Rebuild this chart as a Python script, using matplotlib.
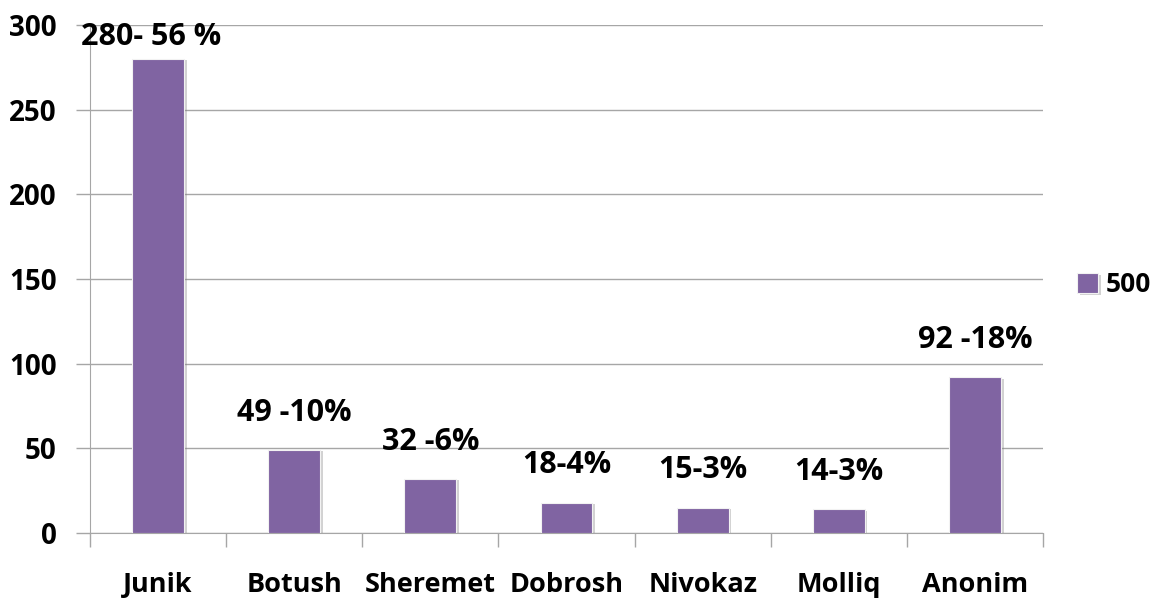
import numpy as np
import matplotlib
matplotlib.use("Agg")
import matplotlib.pyplot as plt
import matplotlib.patheffects as pe

## Chart data
categories = ['Junik', 'Botush', 'Sheremet', 'Dobrosh', 'Nivokaz', 'Molliq', 'Anonim']
values = [280, 49, 32, 18, 15, 14, 92]
labels = ['280- 56 %', '49 -10%', '32 -6%', '18-4%', '15-3%', '14-3%', '92 -18%']
series_name = '500'
y_ticks = [0, 50, 100, 150, 200, 250, 300]

plt.rcParams['font.family'] = ['Open Sans', 'DejaVu Sans']
plt.rcParams['font.weight'] = 'bold'

bar_color = '#8064A2'
grid_color = '#a6a6a6'

fig = plt.figure(figsize=(11.63, 6.0), dpi=100)
ax = fig.add_axes([0.0774, 0.1117, 0.8194, 0.8466])

x = np.arange(len(categories))
shadow = [pe.SimplePatchShadow(offset=(2, -1), shadow_rgbFace='#808080', alpha=0.35), pe.Normal()]
bars = ax.bar(x, values, width=0.38, color=bar_color, edgecolor='#f2f2f2', linewidth=0.8,
              zorder=3, label=series_name)
for b in bars:
    b.set_path_effects(shadow)

## data labels above the bars
for xi, v, lab in zip(x, values, labels):
    ax.text(xi - (0.05 if v > 250 else 0), min(v + 22, 293), lab, ha='center', va='center',
            fontsize=22, fontweight='bold', color='black', zorder=4)

ax.set_xlim(-0.5, len(categories) - 0.5)
ax.set_ylim(0, 300)
ax.set_yticks(y_ticks)
ax.yaxis.grid(True, color=grid_color, linewidth=1.0, zorder=0)

# x ticks at the category boundaries, labels at centres
ax.set_xticks(np.arange(len(categories) + 1) - 0.5)
ax.set_xticklabels([])
ax.set_xticks(x, minor=True)
ax.set_xticklabels(categories, minor=True)
ax.tick_params(axis='x', which='minor', length=0, pad=28, labelsize=19.5)
ax.tick_params(axis='x', which='major', length=10, color=grid_color, width=1.0)
ax.tick_params(axis='y', length=10, color=grid_color, width=1.0, pad=14, labelsize=20)
for t in ax.get_xticklabels(minor=True) + ax.get_yticklabels():
    t.set_fontweight('bold')

for s in ['top', 'right']:
    ax.spines[s].set_visible(False)
ax.spines['left'].set_color(grid_color)
ax.spines['bottom'].set_color(grid_color)

leg = fig.legend(handles=[bars], labels=[series_name], loc='center left',
                 bbox_to_anchor=(0.926, 0.525), frameon=False, handlelength=0.8,
                 handleheight=0.8, handletextpad=0.3, borderpad=0, borderaxespad=0,
                 prop={'size': 19, 'weight': 'bold'})

fig.savefig('out.png', dpi=100)
